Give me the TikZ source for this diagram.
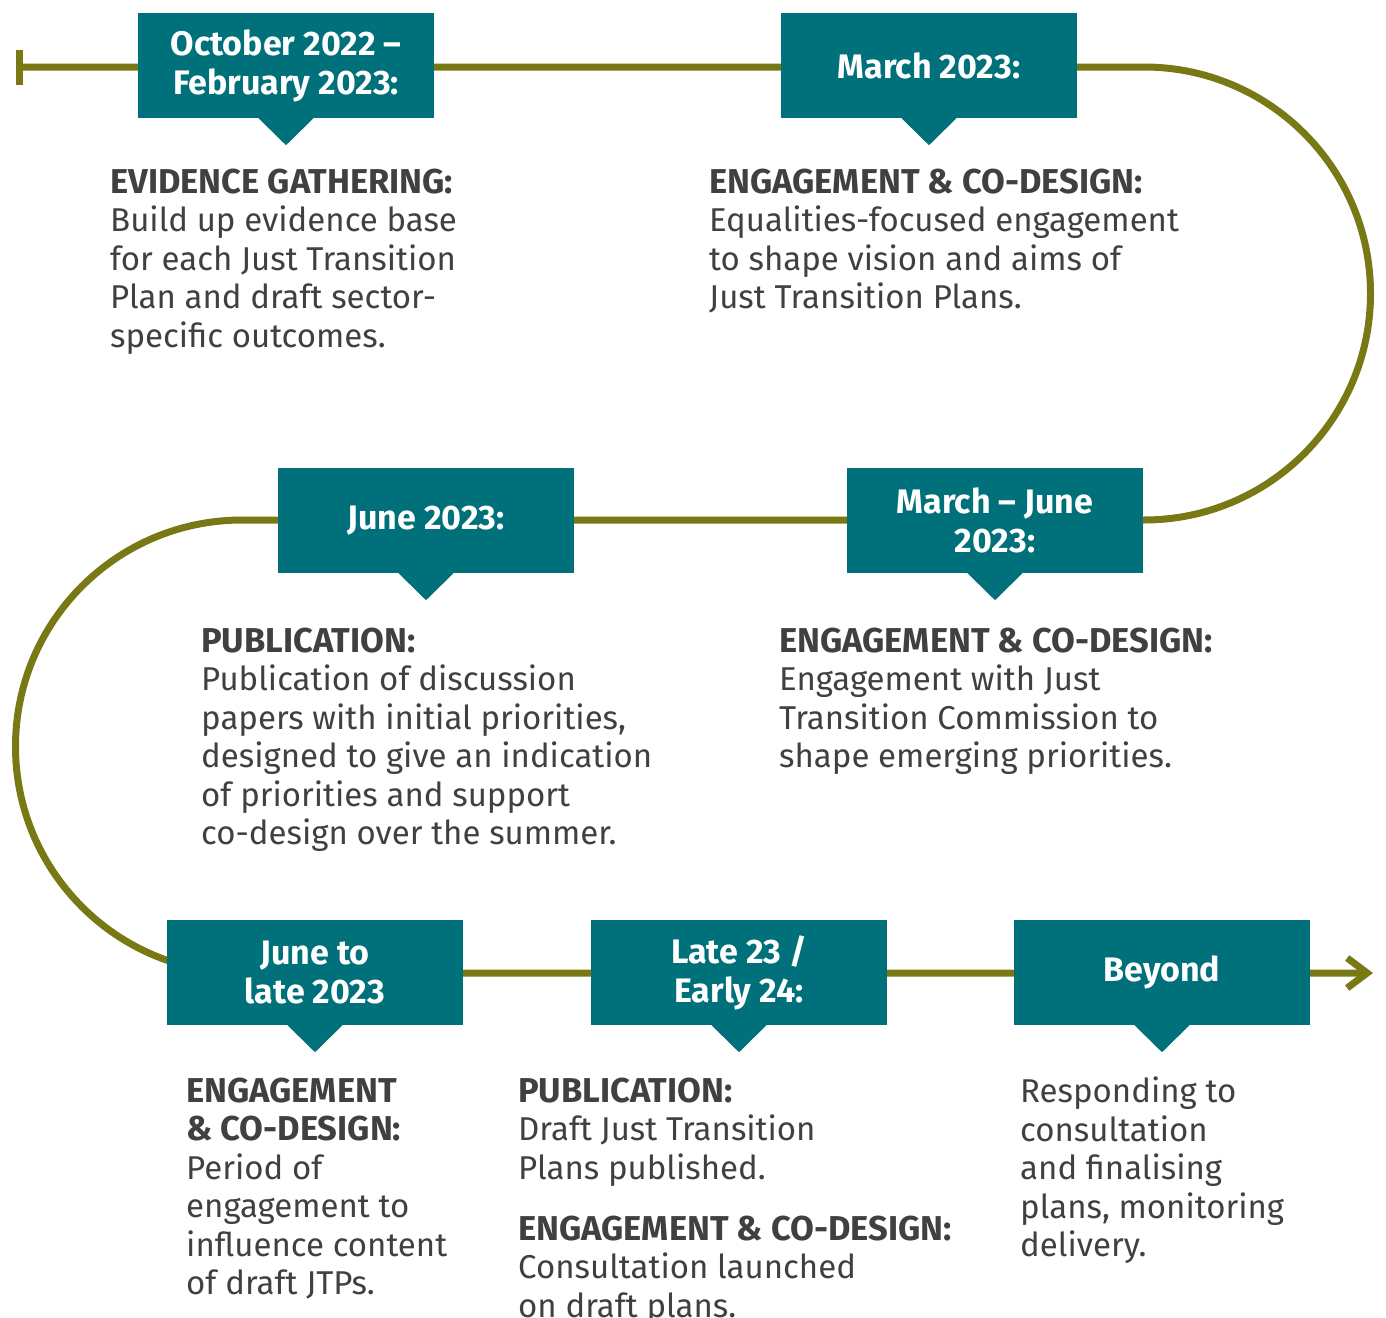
\documentclass[tikz,border=0pt]{standalone}
\usepackage{fontspec}
\setmainfont{Fira Sans}
\usetikzlibrary{arrows.meta}
\definecolor{jtteal}{RGB}{0,112,122}
\definecolor{jtolive}{RGB}{120,120,20}
\definecolor{jtgrey}{RGB}{64,64,64}
\newcommand\hd[1]{{\fontsize{34.5}{38.5}\selectfont\bfseries #1}}
\tikzset{
  datebox/.style={rectangle, fill=jtteal, text=white, inner sep=0pt,
    minimum width=296pt, minimum height=105pt, align=center,
    font=\bfseries\fontsize{34}{39}\selectfont},
  notetext/.style={anchor=north west, inner sep=0pt, text=jtgrey, align=left,
    font=\fontsize{33}{38.5}\selectfont},
  track/.style={draw=jtolive, line width=7pt},
}
\begin{document}
\begin{tikzpicture}[x=1pt,y=1pt]
  \useasboundingbox (0,0) rectangle (1386,-1317);

  % timeline track
  \coordinate (start) at (16,-67);
  \coordinate (finish) at (1373,-973);
  \draw[track, {Bar[width=35pt]}-{Straight Barb[length=20pt,width=30pt]}]
    (start) -- (1144,-67) arc[start angle=90, end angle=-90, radius=226.5]
    -- (242,-520) arc[start angle=90, end angle=270, radius=226.5]
    -- (finish);

  % date boxes
  \node[datebox] (oct)     at (286,-65.5)  {October 2022 --\\February 2023:};
  \node[datebox] (mar)     at (929,-65.5)  {March 2023:};
  \node[datebox] (jun)     at (426,-520.5) {June 2023:};
  \node[datebox] (marjun)  at (995,-520.5) {March -- June\\2023:};
  \node[datebox] (junlate) at (315,-972.5) {June to\\late 2023};
  \node[datebox] (late)    at (739,-972.5) {Late 23 /\\Early 24:};
  \node[datebox] (beyond)  at (1162,-972.5) {Beyond};
  \foreach \n in {oct,mar,jun,marjun,junlate,late,beyond}
    \fill[jtteal] ([xshift=-28pt,yshift=0.5pt]\n.south) -- ([xshift=28pt,yshift=0.5pt]\n.south)
      -- ([yshift=-27pt]\n.south) -- cycle;

  % notes
  \node[notetext] (evid) at (110,-168.5) {\hd{EVIDENCE GATHERING:}\\Build up evidence base\\for each Just Transition\\Plan and draft sector-\\specific outcomes.};
  \node[notetext] (equal) at (709,-168.5) {\hd{ENGAGEMENT \& CO-DESIGN:}\\Equalities-focused engagement\\to shape vision and aims of\\Just Transition Plans.};
  \node[notetext] (disc) at (201,-627.5) {\hd{PUBLICATION:}\\Publication of discussion\\papers with initial priorities,\\designed to give an indication\\of priorities and support\\co-design over the summer.};
  \node[notetext] (comm) at (779,-627.5) {\hd{ENGAGEMENT \& CO-DESIGN:}\\Engagement with Just\\Transition Commission to\\shape emerging priorities.};
  \node[notetext] (period) at (186,-1077.5) {\hd{ENGAGEMENT}\\\hd{\& CO-DESIGN:}\\Period of\\engagement to\\influence content\\of draft JTPs.};
  \node[notetext] (draft) at (518,-1077.5) {\hd{PUBLICATION:}\\Draft Just Transition\\Plans published.\\[22.5pt]\hd{ENGAGEMENT \& CO-DESIGN:}\\Consultation launched\\on draft plans.};
  \node[notetext] (resp) at (1020,-1077) {Responding to\\consultation\\and finalising\\plans, monitoring\\delivery.};
\end{tikzpicture}
\end{document}
